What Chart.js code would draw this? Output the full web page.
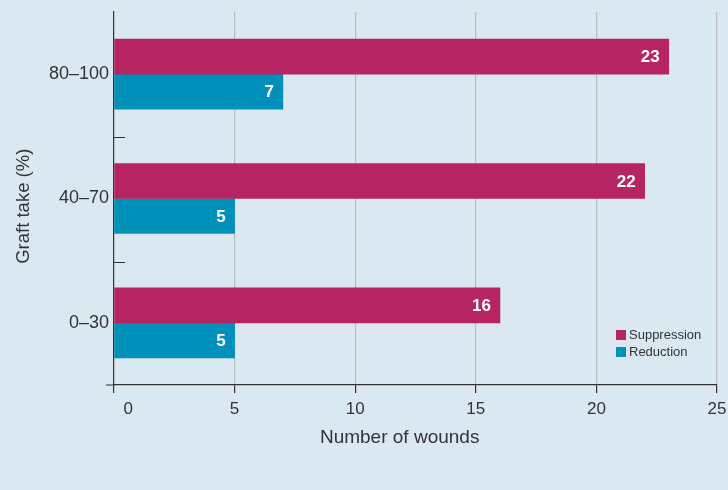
<!DOCTYPE html>
<html>
<head>
<meta charset="utf-8">
<script src="https://cdn.jsdelivr.net/npm/chart.js@4"></script>
<style>
  html, body { margin: 0; padding: 0; background: #d9e8f1; }
  #wrap { position: relative; width: 728px; height: 490px; }
  #legend { position: absolute; left: 616px; top: 326px; font: 13px "Liberation Sans", Arial, sans-serif; color: #333; }
  #legend div { height: 17px; line-height: 17px; white-space: nowrap; }
  #legend span { display: inline-block; width: 10px; height: 10px; margin-right: 3px; vertical-align: -1px; }
</style>
</head>
<body>
<div id="wrap">
  <canvas id="chart" width="728" height="490"></canvas>
  <div id="legend"></div>
</div>
<script>
const categories = ["80–100", "40–70", "0–30"];
const suppression = [23, 22, 16];
const reduction = [7, 5, 5];
const xTicks = [0, 5, 10, 15, 20, 25];
const seriesNames = ["Suppression", "Reduction"];
const seriesColors = ["#b72462", "#0090b9"];

const FONT = '"Liberation Sans", Arial, sans-serif';
const TEXT = "#333";

// value labels at the end of each bar, drawn after the grid
const barLabels = {
  id: "barLabels",
  afterDraw(chart) {
    const ctx = chart.ctx;
    ctx.save();
    ctx.font = "bold 17px " + FONT;
    ctx.fillStyle = "#fff";
    ctx.textAlign = "right";
    ctx.textBaseline = "middle";
    chart.data.datasets.forEach((ds, i) => {
      chart.getDatasetMeta(i).data.forEach((bar, j) => {
        ctx.fillText(String(ds.data[j]), bar.x - 9, bar.y + 1);
      });
    });
    ctx.restore();
  }
};

// small inner ticks between categories, and the stub of the x axis
const axisMarks = {
  id: "axisMarks",
  afterDraw(chart) {
    const ctx = chart.ctx;
    const y = chart.scales.y;
    const area = chart.chartArea;
    ctx.save();
    ctx.strokeStyle = TEXT;
    ctx.lineWidth = 1.2;
    ctx.beginPath();
    for (let i = 0; i < categories.length - 1; i++) {
      const py = Math.round((y.getPixelForTick(i) + y.getPixelForTick(i + 1)) / 2) + 1.5;
      ctx.moveTo(area.left, py);
      ctx.lineTo(area.left + 11, py);
    }
    ctx.moveTo(area.left - 8, area.bottom);
    ctx.lineTo(area.left, area.bottom);
    ctx.stroke();
    ctx.restore();
  }
};

const legend = document.getElementById("legend");
seriesNames.forEach((name, i) => {
  const row = document.createElement("div");
  row.innerHTML = '<span style="background:' + seriesColors[i] + '"></span>' + name;
  legend.appendChild(row);
});

new Chart(document.getElementById("chart").getContext("2d"), {
  type: "bar",
  data: {
    labels: categories,
    datasets: [
      { label: seriesNames[0], data: suppression, backgroundColor: seriesColors[0] },
      { label: seriesNames[1], data: reduction, backgroundColor: seriesColors[1] }
    ]
  },
  options: {
    indexAxis: "y",
    responsive: false,
    animation: false,
    barThickness: 35,
    layout: { padding: { left: 0, top: 12, right: 11, bottom: 0 } },
    plugins: { legend: { display: false }, tooltip: { enabled: false } },
    scales: {
      x: {
        min: 0,
        max: 25,
        z: 1,
        afterBuildTicks(scale) { scale.ticks = xTicks.map(v => ({ value: v })); },
        afterFit(scale) {
          scale.height = 105;
          scale.paddingLeft = 0;
          scale.paddingRight = 0;
        },
        ticks: {
          font: { family: FONT, size: 17 },
          color: TEXT,
          padding: 6,
          maxRotation: 0,
          callback: v => (v === 0 ? "      0" : String(v))
        },
        grid: {
          color: c => (c.tick && c.tick.value === 0 ? "rgba(0,0,0,0)" : "#bcbcbc"),
          lineWidth: 1.2,
          tickColor: TEXT,
          tickLength: 8,
          tickWidth: 1.2
        },
        border: { display: true, color: TEXT, width: 1.2 },
        title: {
          display: true,
          text: "Number of wounds      ",
          font: { family: FONT, size: 19 },
          color: TEXT,
          padding: { top: 0, bottom: 41 }
        }
      },
      y: {
        z: 1,
        afterFit(scale) {
          scale.width = 114;
          scale.paddingTop = 0;
          scale.paddingBottom = 0;
        },
        ticks: {
          font: { family: FONT, size: 18 },
          color: TEXT,
          padding: 5
        },
        grid: { display: false, drawTicks: false },
        border: { display: true, color: TEXT, width: 1.2 },
        title: {
          display: true,
          text: "Graft take (%)   ",
          font: { family: FONT, size: 18.5 },
          color: TEXT,
          padding: { top: 13, bottom: 0 }
        }
      }
    }
  },
  plugins: [barLabels, axisMarks]
});
</script>
</body>
</html>
